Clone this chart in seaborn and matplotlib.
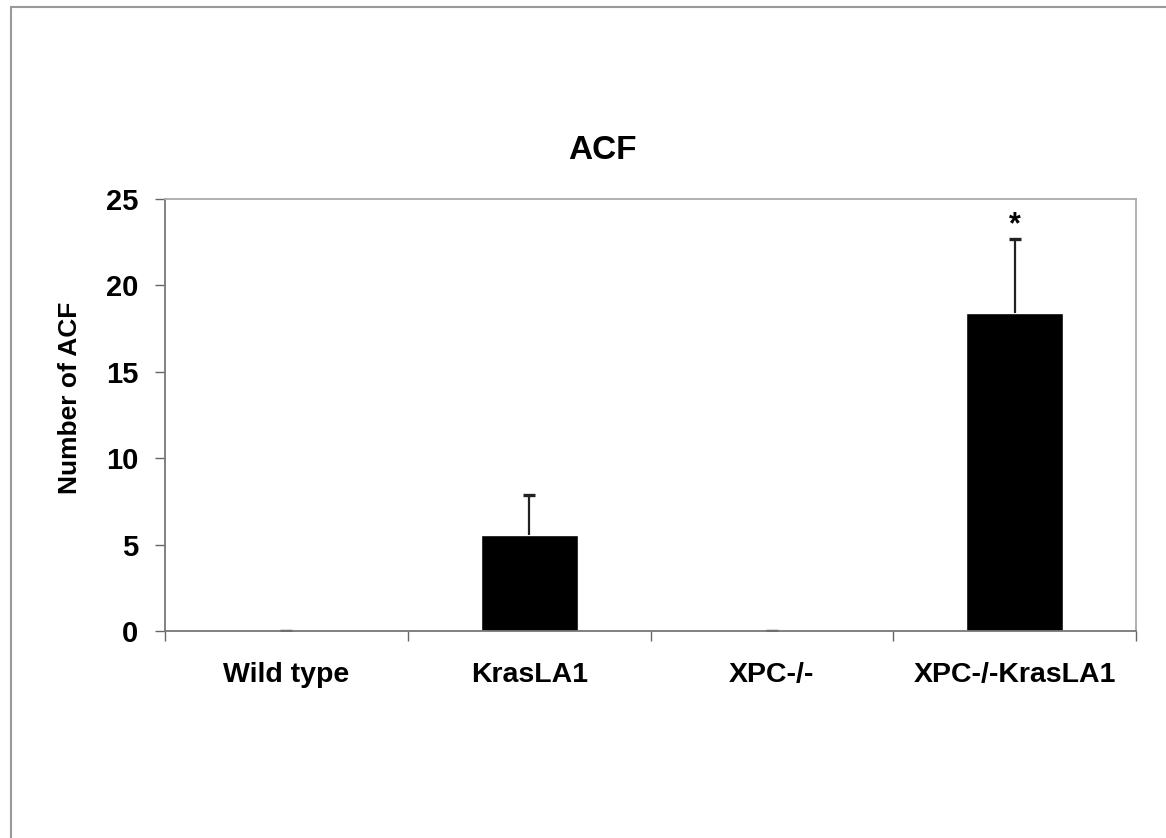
import numpy as np
import pandas as pd
import matplotlib.pyplot as plt
import matplotlib.patches as mpatches
import seaborn as sns

# data
groups = ['Wild type', 'KrasLA1', 'XPC-/-', 'XPC-/-KrasLA1']
acf_mean = [0.0, 5.55, 0.0, 18.4]
acf_err = [0.0, 2.3, 0.0, 4.3]
signif = ['', '', '', '*']

sns.set_style('white')
plt.rcParams['font.family'] = ['Liberation Sans', 'DejaVu Sans']
plt.rcParams['text.color'] = 'black'
plt.rcParams['xtick.color'] = 'black'
plt.rcParams['ytick.color'] = 'black'
plt.rcParams['axes.labelcolor'] = 'black'

df = pd.DataFrame({'group': groups, 'acf': acf_mean})

fig = plt.figure(figsize=(11.66, 8.38), dpi=100)
ax = fig.add_axes([0.1415, 0.247, 0.8328, 0.5155])

sns.barplot(data=df, x='group', y='acf', order=groups, color='black',
            width=0.4, errorbar=None, ax=ax)

# upper-only error bars, cap drawn only at the top
pos = np.arange(len(groups))
tops = np.array(acf_mean) + np.array(acf_err)
ax.errorbar(pos, acf_mean, yerr=[np.zeros(len(groups)), acf_err], fmt='none',
            ecolor='#222222', elinewidth=1.6, capsize=0)
ax.plot(pos, tops, ls='none', marker='_', ms=9, mew=2.4, color='#222222')

for x, t, s in zip(pos, tops, signif):
    if s:
        ax.annotate(s, (x, t), xytext=(0, -1), textcoords='offset points',
                    ha='center', va='bottom', fontsize=22, fontweight='bold')

ax.set_ylim(0, 25)
ax.set_xlim(-0.5, 3.5)
ax.set_yticks([0, 5, 10, 15, 20, 25])
fig.text(602 / 1166, 1 - 150 / 838, 'ACF', fontsize=24, fontweight='bold',
         ha='center', va='center')
ax.set_ylabel('Number of ACF', fontsize=19, fontweight='bold')
ax.yaxis.set_label_coords(-0.085, 0.54)
ax.set_xlabel('')

for lab in ax.get_yticklabels():
    lab.set_fontsize(21)
    lab.set_fontweight('bold')
for lab in ax.get_xticklabels():
    lab.set_fontsize(20.5)
    lab.set_fontweight('bold')

# tick marks between categories, as in the original
ax.set_xticks(np.arange(-0.5, len(groups), 1.0), minor=True)
ax.tick_params(axis='x', which='major', length=0, pad=22)
ax.tick_params(axis='x', which='minor', length=7, width=1, color='#666666', direction='out', bottom=True)
ax.tick_params(axis='y', length=7, width=1, color='#666666', labelcolor='black', direction='out', left=True, pad=12)

for side in ['left', 'bottom']:
    ax.spines[side].set_color('#777777')
    ax.spines[side].set_linewidth(1.3)
for side in ['top', 'right']:
    ax.spines[side].set_color('#aaaaaa')
    ax.spines[side].set_linewidth(1.3)

# outer frame of the original slide
fig.patches.append(mpatches.Rectangle((11 / 1166, -0.05), 1.2, 1 - 7 / 838 + 0.05,
                                      transform=fig.transFigure, fill=False,
                                      edgecolor='#999999', linewidth=1.5))

fig.savefig('out.png', dpi=100)
